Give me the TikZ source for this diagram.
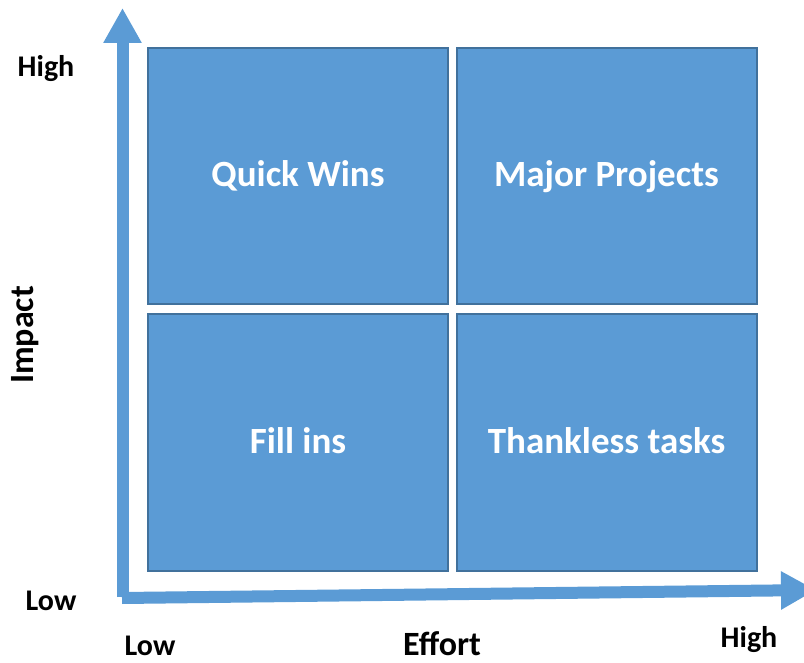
\documentclass[tikz,border=0pt]{standalone}
\usepackage{fontspec}
\setmainfont{Carlito}
\usepackage{tikz}
\usetikzlibrary{arrows.meta}
\definecolor{matrixblue}{HTML}{5B9BD5}
\definecolor{edgeblue}{HTML}{41719C}

\begin{document}
\begin{tikzpicture}
 [x=1pt, y=-1pt, font=\bfseries,
  quad/.style={draw=edgeblue, line width=2pt, fill=matrixblue, text=white,
    minimum width=300pt, minimum height=256pt, inner sep=0pt,
    text height=24pt, text depth=2pt,
    font=\fontsize{37}{40}\selectfont\bfseries},
  axis/.style={matrixblue, line width=12pt,
    -{Triangle[width=36pt, length=35pt]}},
  tick/.style={anchor=base, font=\fontsize{30}{32}\selectfont\bfseries},
  axtitle/.style={anchor=base, font=\fontsize{34}{36}\selectfont\bfseries}]

  \useasboundingbox (0,0) rectangle (804,663);

  \foreach \x/\y/\n/\t in {298/176/qw/Quick Wins, 606.5/176/mp/Major Projects,
      298/442.5/fi/Fill ins, 606.5/442.5/tt/Thankless tasks}
    \node[quad] (\n) at (\x,\y) {\t};

  \coordinate (origin) at (122.5,597);
  \coordinate (ytip) at (122.5,8);
  \coordinate (xstart) at (122,598);
  \coordinate (xtip) at (816,590);
  \draw[axis] (origin) -- (ytip);
  \draw[axis] (xstart) -- (xtip);

  \node[tick] (yhigh) at (46,77) {High};
  \node[tick] (ylow) at (51,610) {Low};
  \node[tick] (xlow) at (150,655) {Low};
  \node[tick] (xhigh) at (749,647) {High};
  \node[axtitle] (effort) at (442,655) {Effort};
  \node[axtitle, rotate=90] (impact) at (34,335) {Impact};
\end{tikzpicture}
\end{document}
